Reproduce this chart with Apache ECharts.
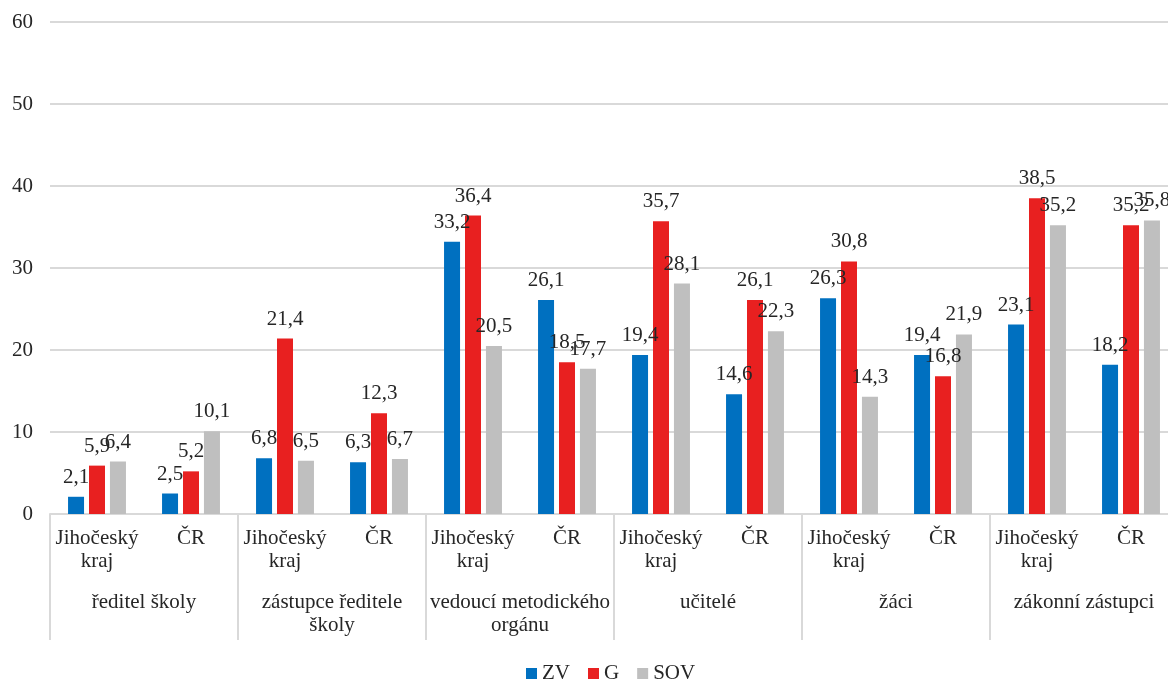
<!DOCTYPE html>
<html>
<head>
<meta charset="utf-8">
<script src="https://cdn.jsdelivr.net/npm/echarts@6/dist/echarts.min.js"></script>
<style>
html,body{margin:0;padding:0;background:#fff;}
#chart{width:1168px;height:679px;}
</style>
</head>
<body>
<div id="chart"></div>
<script>
const groups = ['ředitel školy', 'zástupce ředitele\nškoly', 'vedoucí metodického\norgánu', 'učitelé', 'žáci', 'zákonní zástupci'];
const regions = ['Jihočeský\nkraj', 'ČR'];
const seriesNames = ['ZV', 'G', 'SOV'];
// values per inner category (group x region), in order
const ZV  = [2.1, 2.5, 6.8, 6.3, 33.2, 26.1, 19.4, 14.6, 26.3, 19.4, 23.1, 18.2];
const G   = [5.9, 5.2, 21.4, 12.3, 36.4, 18.5, 35.7, 26.1, 30.8, 16.8, 38.5, 35.2];
const SOV = [6.4, 10.1, 6.5, 6.7, 20.5, 17.7, 28.1, 22.3, 14.3, 21.9, 35.2, 35.8];
const yTicks = [0, 10, 20, 30, 40, 50, 60];

const colors = ['#0070C0', '#E82020', '#BFBFBF'];
const FONT = 'Liberation Serif';
const TXT = '#262626';
const FS = 21;

const inner = [];
groups.forEach(() => regions.forEach(r => inner.push(r)));

const chart = echarts.init(document.getElementById('chart'));
const fmt = p => p.value.toFixed(1).replace('.', ',');
const mk = (name, data, i) => ({
  name, type: 'bar', data, xAxisIndex: 0,
  barWidth: 16, barGap: '31%',
  itemStyle: { color: colors[i] },
  label: { show: true, position: 'top', distance: 9, formatter: fmt,
           fontFamily: FONT, fontSize: FS, color: TXT },
  animation: false
});

chart.setOption({
  animation: false,
  textStyle: { fontFamily: FONT },
  grid: { left: 50, width: 1128, top: 22, bottom: 165, outerBoundsMode: 'none', containLabel: false },
  legend: {
    data: seriesNames, left: 521, top: 658,
    itemWidth: 11, itemHeight: 11, itemGap: 18,
    icon: 'rect',
    textStyle: { fontFamily: FONT, fontSize: FS, color: TXT }
  },
  xAxis: [
    {
      type: 'category', data: inner, position: 'bottom',
      axisLine: { lineStyle: { color: '#D9D9D9', width: 2 } },
      axisTick: { show: false },
      axisLabel: { interval: 0, margin: 13, fontFamily: FONT, fontSize: FS, color: TXT, lineHeight: 23 }
    },
    {
      type: 'category', data: groups, position: 'bottom',
      axisLine: { show: false },
      axisTick: { show: true, length: 126, lineStyle: { color: '#D9D9D9', width: 2 } },
      axisLabel: { interval: 0, margin: 77, fontFamily: FONT, fontSize: FS, color: TXT, lineHeight: 23 }
    }
  ],
  yAxis: {
    type: 'value', min: 0, max: 60, interval: 10,
    axisLine: { show: false }, axisTick: { show: false },
    splitLine: { lineStyle: { color: '#D9D9D9', width: 2 } },
    axisLabel: { margin: 17, fontFamily: FONT, fontSize: FS, color: TXT,
                 formatter: v => yTicks.includes(v) ? String(v) : '' }
  },
  series: [mk('ZV', ZV, 0), mk('G', G, 1), mk('SOV', SOV, 2)]
});
</script>
</body>
</html>
